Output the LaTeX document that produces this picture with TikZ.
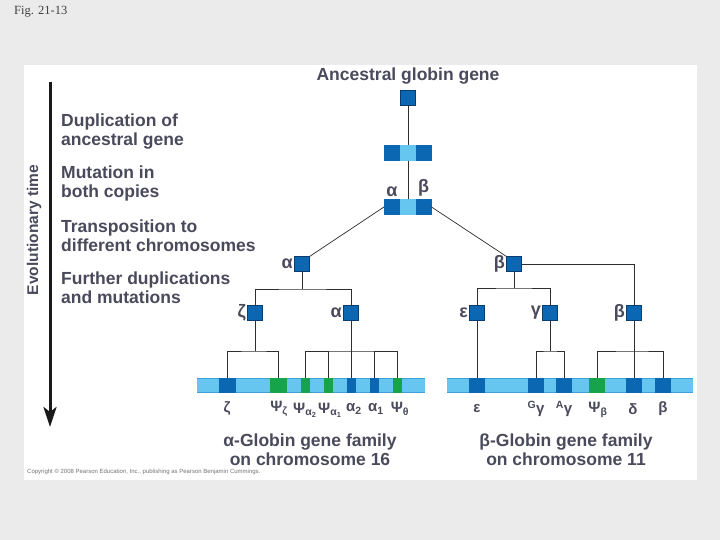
\documentclass[tikz,border=0pt]{standalone}
\usepackage{fontspec}
\setmainfont{Liberation Sans}
\newfontfamily\grk{Liberation Serif}
\usetikzlibrary{arrows.meta,calc}
\definecolor{gblue}{HTML}{0B67B2}
\definecolor{gedge}{HTML}{0A3C6E}
\definecolor{lblue}{HTML}{66C6F0}
\definecolor{bedge}{HTML}{3EA2D6}
\definecolor{ggreen}{HTML}{17A34A}
\definecolor{txt}{HTML}{4A4A5C}
\definecolor{bgc}{HTML}{EBEBEB}
\definecolor{wirec}{HTML}{2E2E2E}
\tikzset{
  sq/.style={draw=gedge, line width=0.6pt, fill=gblue, minimum size=15pt, inner sep=0pt, outer sep=0pt},
  seg/.style={minimum height=16pt, inner sep=0pt, outer sep=0pt, draw=none},
  cg/.style={minimum height=15pt, inner sep=0pt, outer sep=0pt, draw=none},
  wire/.style={draw=wirec, line width=0.7pt},
  lbl/.style={text=txt, font=\fontsize{17.5}{19}\selectfont\bfseries, align=left, anchor=west, inner sep=0pt},
  gl/.style={text=txt, font=\fontsize{18}{18}\selectfont\bfseries, inner sep=1.5pt},
  bl/.style={text=txt, font=\fontsize{15}{15}\selectfont\bfseries, inner sep=0pt},
  ttl/.style={text=txt, font=\fontsize{17.5}{19}\selectfont\bfseries, align=center, inner sep=0pt}
}
\begin{document}
\begin{tikzpicture}[x=1pt,y=-1pt]
\useasboundingbox (0,0) rectangle (720,540);
\fill[bgc] (0,0) rectangle (720,540);
\fill[white] (24,65) rectangle (697,480);

\node[anchor=west, font=\grk\fontsize{12.5}{12.5}\selectfont, text=black!75, inner sep=0pt] (fig) at (14,12) {Fig. 21-13};

% title and ancestral gene
\node[ttl] (title) at (408,76) {Ancestral globin gene};
\node[sq] (anc) at (408,98) {};

% duplicated
\node[seg, fill=gblue, minimum width=16pt] (d1L) at (392,153) {};
\node[seg, fill=lblue, minimum width=15.5pt] (d1M) at (408,153) {};
\node[seg, fill=gblue, minimum width=16pt] (d1R) at (423.5,153) {};
% mutated
\node[seg, fill=gblue, minimum width=16pt] (d2L) at (392,207) {};
\node[seg, fill=lblue, minimum width=15.5pt] (d2M) at (408,207) {};
\node[seg, fill=gblue, minimum width=16pt] (d2R) at (423.5,207) {};
\node[gl, anchor=south] (la) at ([yshift=1pt]d2L.north) {α};
\node[gl, anchor=south] (lb) at ([yshift=1pt]d2R.north) {β};

\draw[wire] (anc.south) -- (d1M.north);
\draw[wire] (d1M.south) -- (d2M.north);

% transposed
\node[sq] (aS) at (302,264) {};
\node[gl, anchor=east] (aSl) at (aS.west) {α};
\node[sq] (bS) at (514,264) {};
\node[gl, anchor=east] (bSl) at (bS.west) {β};
\draw[wire] (d2L.west) -- (aS.north east);
\draw[wire] (d2R.east) -- (bS.north west);

% further duplications
\node[sq] (zS) at (255,313) {};
\node[gl, anchor=east] (zSl) at (zS.west) {ζ};
\node[sq] (a2S) at (351,313) {};
\node[gl, anchor=east] (a2Sl) at (a2S.west) {α};
\node[sq] (eS) at (477,313) {};
\node[gl, anchor=east] (eSl) at (eS.west) {ε};
\node[sq] (gS) at (550,313) {};
\node[gl, anchor=east] (gSl) at (gS.west) {γ};
\node[sq] (b2S) at (634,313) {};
\node[gl, anchor=east] (b2Sl) at (b2S.west) {β};

% chromosome 16 (alpha)
\node[cg, fill=lblue, minimum width=228pt] (chA) at (311,385.5) {};
\draw[bedge, line width=1.4pt] ([yshift=-0.7pt]chA.north west) -- ([yshift=-0.7pt]chA.north east);
\draw[bedge, line width=1.4pt] ([yshift=0.7pt]chA.south west) -- ([yshift=0.7pt]chA.south east);
\node[cg, fill=gblue, minimum width=17pt] (cz) at (227.5,385.5) {};
\node[cg, fill=ggreen, minimum width=17pt] (cpz) at (278.5,385.5) {};
\node[cg, fill=ggreen, minimum width=9pt] (cpa2) at (305,385.5) {};
\node[cg, fill=ggreen, minimum width=9pt] (cpa1) at (328,385.5) {};
\node[cg, fill=gblue, minimum width=9pt] (ca2) at (351,385.5) {};
\node[cg, fill=gblue, minimum width=9pt] (ca1) at (374,385.5) {};
\node[cg, fill=ggreen, minimum width=9pt] (cpt) at (397,385.5) {};

% chromosome 11 (beta)
\node[cg, fill=lblue, minimum width=246pt] (chB) at (570,385.5) {};
\draw[bedge, line width=1.4pt] ([yshift=-0.7pt]chB.north west) -- ([yshift=-0.7pt]chB.north east);
\draw[bedge, line width=1.4pt] ([yshift=0.7pt]chB.south west) -- ([yshift=0.7pt]chB.south east);
\node[cg, fill=gblue, minimum width=16pt] (ce) at (477,385.5) {};
\node[cg, fill=gblue, minimum width=16pt] (cgg) at (536,385.5) {};
\node[cg, fill=gblue, minimum width=16pt] (cag) at (564,385.5) {};
\node[cg, fill=ggreen, minimum width=16pt] (cpb) at (597,385.5) {};
\node[cg, fill=gblue, minimum width=16pt] (cd) at (634,385.5) {};
\node[cg, fill=gblue, minimum width=16pt] (cb) at (663,385.5) {};

% alpha tree
\coordinate (aj) at (302,289);
\draw[wire] (aS.south) -- (aj);
\draw[wire] (zS.north) |- (aj) -| (a2S.north);
\coordinate (zj) at (255,351);
\draw[wire] (zS.south) -- (zj);
\draw[wire] (cz.north) |- (zj) -| (cpz.north);
\coordinate (a2j) at (351,351);
\draw[wire] (a2S.south) -- (ca2.north);
\draw[wire] (cpa2.north) |- (a2j) -| (cpt.north);
\draw[wire] (cpa1.north) -- (cpa1.north |- a2j);
\draw[wire] (ca1.north) -- (ca1.north |- a2j);

% beta tree
\draw[wire] (bS.east) -| (b2S.north);
\coordinate (bj) at (514,288);
\draw[wire] (bS.south) -- (bj);
\draw[wire] (eS.north) |- (bj) -| (gS.north);
\draw[wire] (eS.south) -- (ce.north);
\coordinate (gj) at (550,351);
\draw[wire] (gS.south) -- (gj);
\draw[wire] (cgg.north) |- (gj) -| (cag.north);
\coordinate (b2j) at (634,351);
\draw[wire] (b2S.south) -- (cd.north);
\draw[wire] (cpb.north) |- (b2j) -| (cb.north);

% gene labels
\node[bl] (tz) at (227,409) {ζ};
\node[bl] (tpz) at (279,409) {Ψ\textsubscript{ζ}};
\node[bl] (tpa2) at (305,410) {Ψ\textsubscript{α\textsubscript{2}}};
\node[bl] (tpa1) at (330,410) {Ψ\textsubscript{α\textsubscript{1}}};
\node[bl] (ta2) at (354,409) {α\textsubscript{2}};
\node[bl] (ta1) at (376,409) {α\textsubscript{1}};
\node[bl] (tpt) at (400,409) {Ψ\textsubscript{θ}};
\node[bl] (te) at (477,409) {ε};
\node[bl] (tgg) at (536,409) {\textsuperscript{G}γ};
\node[bl] (tag) at (564,409) {\textsuperscript{A}γ};
\node[bl] (tpb) at (598,410) {Ψ\textsubscript{β}};
\node[bl] (td) at (633,409) {δ};
\node[bl] (tb) at (663,409) {β};

\node[ttl] (famA) at (310,449.5) {α-Globin gene family\\on chromosome 16};
\node[ttl] (famB) at (566,449.5) {β-Globin gene family\\on chromosome 11};

% left side
\coordinate (arT) at (50,82);
\coordinate (arB) at (50,427);
\draw[black!90, line width=3pt, -{Stealth[width=13pt,length=20pt,inset=5pt]}] (arT) -- (arB);
\node[text=txt, font=\fontsize{15.5}{15.5}\selectfont\bfseries, rotate=90, inner sep=0pt] (evo) at (34,230) {Evolutionary time};

\node[lbl] (s1) at (61,131.5) {Duplication of\\ancestral gene};
\node[lbl] (s2) at (61,183.5) {Mutation in\\both copies};
\node[lbl] (s3) at (61,235.5) {Transposition to\\different chromosomes};
\node[lbl] (s4) at (61,287.5) {Further duplications\\and mutations};

\node[anchor=west, text=black!55, font=\fontsize{6}{6}\selectfont, inner sep=0pt] (copy) at (27,472) {Copyright © 2008 Pearson Education, Inc., publishing as Pearson Benjamin Cummings.};
\end{tikzpicture}
\end{document}
